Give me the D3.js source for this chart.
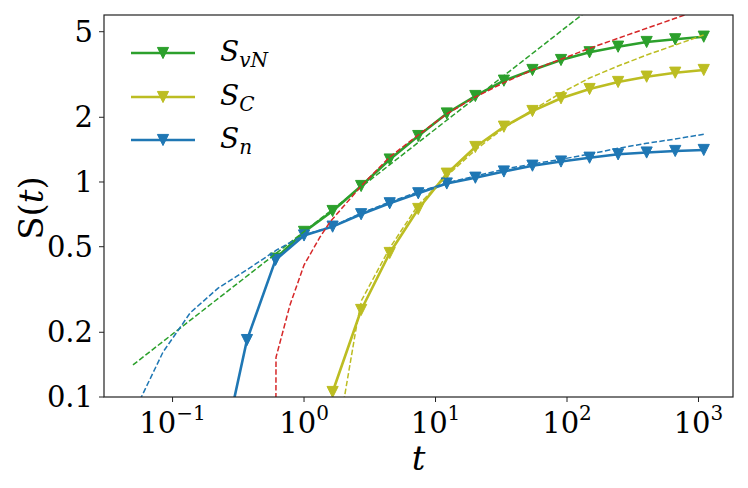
<!DOCTYPE html>
<html>
<head>
<meta charset="utf-8">
<script src="https://cdn.jsdelivr.net/npm/d3@7"></script>
<style>
  body { margin: 0; background: #fff; }
</style>
</head>
<body>
<svg id="chart" width="748" height="488" font-family="DejaVu Serif"></svg>
<script>
// marker times, t = e^(k/2)
const tMarks = [0.223, 0.368, 0.607, 1, 1.649, 2.718, 4.482, 7.389, 12.18, 20.09, 33.12, 54.6, 90.02, 148.4, 244.7, 403.4, 665.1, 1096.6];

// solid series with markers (null = not plotted)
const sVN = [null, null, 0.44, 0.586, 0.733, 0.958, 1.272, 1.636, 2.083, 2.512, 2.96, 3.319, 3.693, 4.012, 4.259, 4.479, 4.61, 4.741];
const sC = [null, null, null, null, 0.1055, 0.254, 0.4675, 0.749, 1.093, 1.455, 1.808, 2.139, 2.451, 2.707, 2.919, 3.089, 3.224, 3.319];
const sN = [0.045, 0.184, 0.434, 0.564, 0.62, 0.708, 0.796, 0.886, 0.984, 1.047, 1.119, 1.191, 1.245, 1.297, 1.345, 1.371, 1.394, 1.409];

// dashed reference curves
const tFitVN = [0.05, 1, 10, 100, 1000];
const fitVN = [0.141, 0.588, 1.764, 5.29, 15.9];

const tFitC = [2.0, 2.53, 2.74, 4.482, 7.389, 12.18, 20.09, 33.12, 54.6, 90.02, 148.4, 244.7, 403.4, 665.1, 1096.6];
const fitC = [0.095, 0.221, 0.282, 0.493, 0.782, 1.066, 1.409, 1.784, 2.162, 2.594, 3.046, 3.463, 3.896, 4.337, 4.827];

const tFitN = [0.05, 0.0847, 0.1175, 0.136, 0.222, 0.366, 0.62, 1, 1.649, 2.718, 4.482, 7.389, 12.18, 20.09, 33.12, 54.6, 90.02, 148.4, 244.7, 403.4, 665.1, 1096.6];
const fitN = [0.083, 0.162, 0.216, 0.246, 0.321, 0.39, 0.483, 0.567, 0.622, 0.717, 0.807, 0.899, 0.99, 1.066, 1.146, 1.213, 1.275, 1.349, 1.435, 1.513, 1.585, 1.667];

const tFitR = [0.61, 0.612, 0.782, 1, 1.323, 1.577, 2.718, 4.482, 7.389, 12.18, 20.09, 33.12, 54.6, 90.02, 148.4, 244.7, 403.4, 665.1, 1096.6];
const fitR = [0.05, 0.153, 0.268, 0.411, 0.555, 0.652, 0.958, 1.307, 1.654, 2.072, 2.485, 2.897, 3.319, 3.722, 4.187, 4.661, 5.187, 5.772, 6.41];

const xTicks = [0.1, 1, 10, 100, 1000];
const xTickExp = ["\u22121", "0", "1", "2", "3"];
const yTicks = [0.1, 0.2, 0.5, 1, 2, 5];
const yTickLabels = ["0.1", "0.2", "0.5", "1", "2", "5"];

const legendNames = [["S", "vN"], ["S", "C"], ["S", "n"]];

const colors = { vn: "#2ca02c", c: "#bcbd22", n: "#1f77b4", r: "#d62728" };

const svg = d3.select("#chart");
const margin = { left: 104, right: 15, top: 15, bottom: 91 };
const W = 748, H = 488;

const x = d3.scaleLog().domain([0.0301, 1830]).range([margin.left, W - margin.right]);
const y = d3.scaleLog().domain([0.1, 5.98]).range([H - margin.bottom, margin.top]);

svg.append("defs").append("clipPath").attr("id", "clip")
    .append("rect")
    .attr("x", margin.left).attr("y", margin.top)
    .attr("width", W - margin.left - margin.right)
    .attr("height", H - margin.top - margin.bottom);

const plot = svg.append("g").attr("clip-path", "url(#clip)");

const line = d3.line().x((d) => x(d[0])).y((d) => y(d[1]));

function zipPts(ts, vs) {
    return ts.map((t, i) => [t, vs[i]]).filter((d) => d[1] != null);
}

// downward triangle marker
const triDown = {
    draw(ctx, size) {
        const h = Math.sqrt(size);
        ctx.moveTo(0, h / 2);
        ctx.lineTo(-h / 2, -h / 2);
        ctx.lineTo(h / 2, -h / 2);
        ctx.closePath();
    },
};
const marker = d3.symbol().type(triDown).size(125);

function drawSolid(vals, color) {
    const pts = zipPts(tMarks, vals);
    plot.append("path")
        .attr("d", line(pts))
        .attr("fill", "none")
        .attr("stroke", color)
        .attr("stroke-width", 2.6)
        .attr("stroke-linejoin", "round");
    plot.selectAll(null).data(pts).enter()
        .append("path")
        .attr("d", marker)
        .attr("transform", (d) => `translate(${x(d[0])},${y(d[1])})`)
        .attr("fill", color)
        .attr("stroke", color)
        .attr("stroke-width", 1);
}

function drawDashed(ts, vals, color) {
    plot.append("path")
        .attr("d", line(zipPts(ts, vals)))
        .attr("fill", "none")
        .attr("stroke", color)
        .attr("stroke-width", 1.5)
        .attr("stroke-dasharray", "5.5,2.4");
}

drawSolid(sVN, colors.vn);
drawSolid(sC, colors.c);
drawSolid(sN, colors.n);

drawDashed(tFitVN, fitVN, colors.vn);
drawDashed(tFitC, fitC, colors.c);
drawDashed(tFitN, fitN, colors.n);
drawDashed(tFitR, fitR, colors.r);

// frame
svg.append("rect")
    .attr("x", margin.left).attr("y", margin.top)
    .attr("width", W - margin.left - margin.right)
    .attr("height", H - margin.top - margin.bottom)
    .attr("fill", "none")
    .attr("stroke", "#222")
    .attr("stroke-width", 1.2);

// x ticks
const xg = svg.append("g");
xTicks.forEach((t, i) => {
    const px = x(t);
    xg.append("line")
        .attr("x1", px).attr("x2", px)
        .attr("y1", H - margin.bottom).attr("y2", H - margin.bottom + 5)
        .attr("stroke", "#222").attr("stroke-width", 1);
    const txt = xg.append("text")
        .attr("x", px).attr("y", 433)
        .attr("text-anchor", "middle")
        .attr("font-size", 29);
    txt.append("tspan").text("10");
    txt.append("tspan").attr("dy", -13).attr("font-size", 20).text(xTickExp[i]);
});

// y ticks
const yg = svg.append("g");
yTicks.forEach((v, i) => {
    const py = y(v);
    yg.append("line")
        .attr("x1", margin.left - 5).attr("x2", margin.left)
        .attr("y1", py).attr("y2", py)
        .attr("stroke", "#222").attr("stroke-width", 1);
    yg.append("text")
        .attr("x", 93).attr("y", py)
        .attr("dy", "0.35em")
        .attr("text-anchor", "end")
        .attr("font-size", 29)
        .text(yTickLabels[i]);
});

// axis labels
svg.append("text")
    .attr("x", (margin.left + W - margin.right) / 2).attr("y", 470)
    .attr("text-anchor", "middle")
    .attr("font-size", 34)
    .attr("font-style", "italic")
    .text("t");

const yl = svg.append("text")
    .attr("transform", "translate(43,208) rotate(-90)")
    .attr("text-anchor", "middle")
    .attr("font-size", 34);
yl.append("tspan").text("S(");
yl.append("tspan").attr("font-style", "italic").text("t");
yl.append("tspan").text(")");

// legend
const legendColors = [colors.vn, colors.c, colors.n];
const legendY = [53, 97, 140];
legendNames.forEach((nm, i) => {
    const g = svg.append("g");
    g.append("line")
        .attr("x1", 131).attr("x2", 195)
        .attr("y1", legendY[i]).attr("y2", legendY[i])
        .attr("stroke", legendColors[i]).attr("stroke-width", 2.6);
    g.append("path")
        .attr("d", marker)
        .attr("transform", `translate(163,${legendY[i]})`)
        .attr("fill", legendColors[i])
        .attr("stroke", legendColors[i]);
    const txt = g.append("text")
        .attr("x", 220).attr("y", legendY[i] + 8)
        .attr("font-size", 28)
        .attr("font-style", "italic");
    txt.append("tspan").text(nm[0]);
    txt.append("tspan").attr("dy", 6).attr("font-size", 20).text(nm[1]);
});
</script>
</body>
</html>
